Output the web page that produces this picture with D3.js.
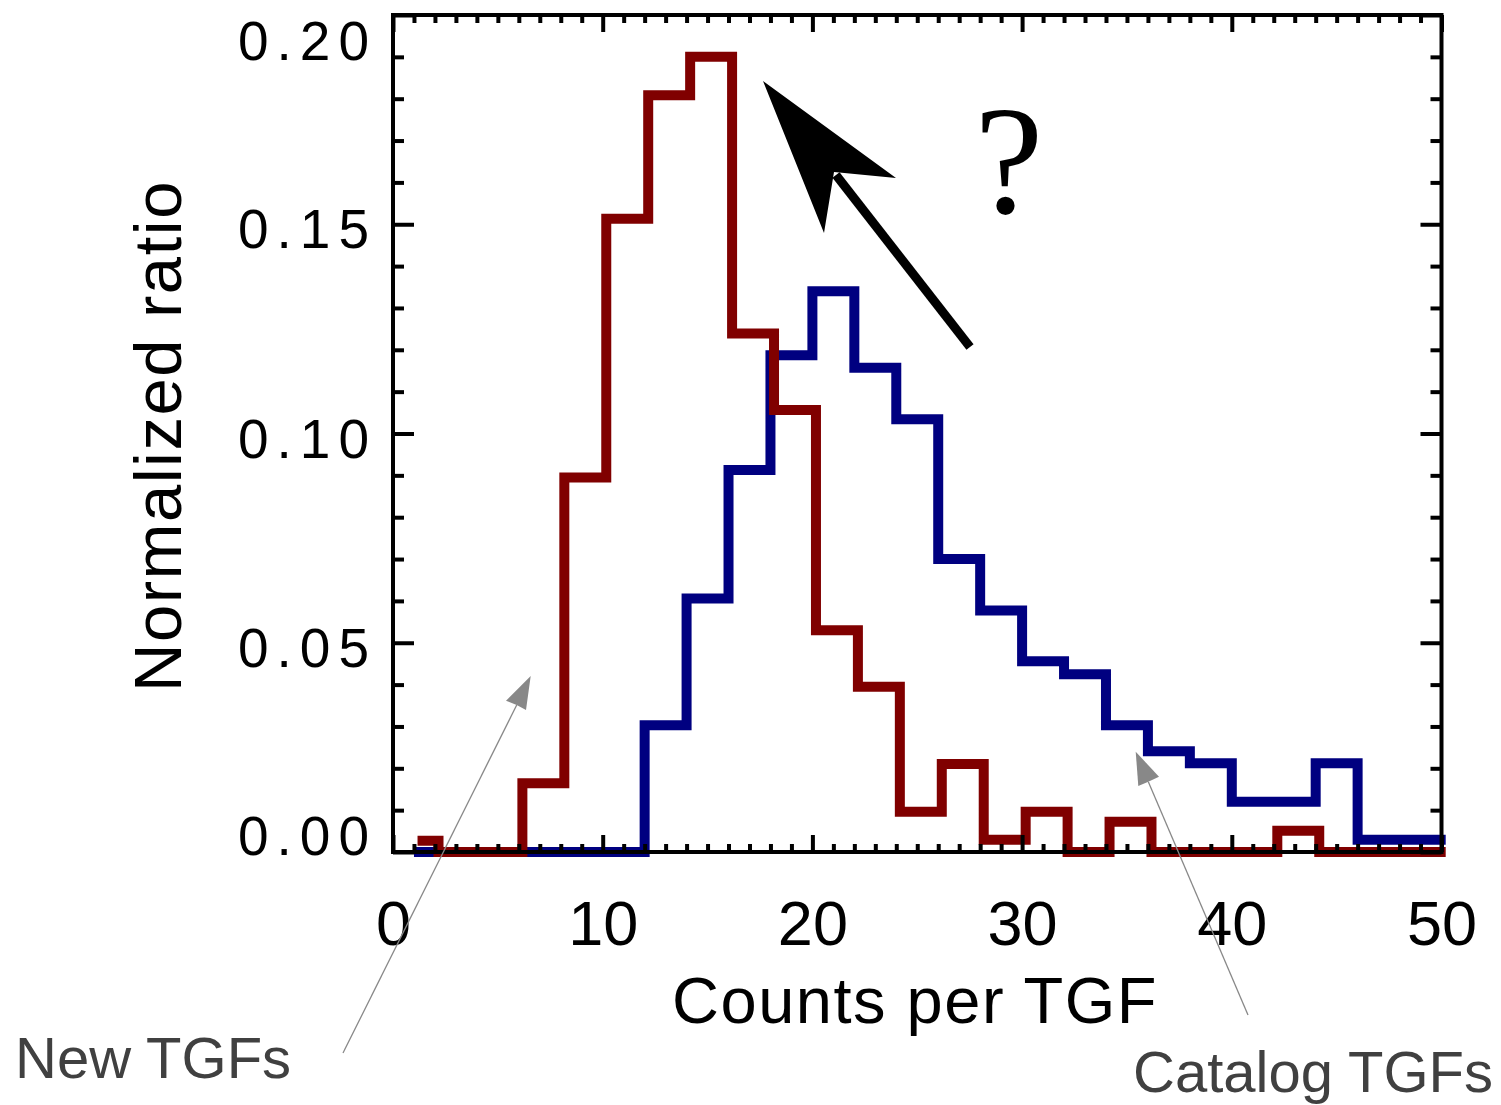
<!DOCTYPE html>
<html>
<head>
<meta charset="utf-8">
<script src="https://cdn.jsdelivr.net/npm/d3@7"></script>
<style>
  body { margin: 0; background: #fff; }
</style>
</head>
<body>
<div class="hist_wrapper"></div>
<script>

// bin centres, IDL psym=10 style (steps fall half way between centres)
const catalogCenters = [1, 3, 5, 7, 9, 11, 13, 15, 17, 19, 21, 23, 25, 27, 29, 31, 33, 35, 37, 39, 41, 43, 45, 47, 49]
const catalogValues = [0, 0, 0, 0, 0, 0, 0.0303, 0.0606, 0.0913, 0.1187, 0.1340, 0.1157, 0.1034, 0.0700,
  0.0577, 0.0456, 0.0425, 0.0303, 0.0241, 0.0212, 0.0120, 0.0120, 0.0212, 0.0029, 0.0029]

const newCenters = [1.17, 3.17, 5.17, 7.17, 9.17, 11.17, 13.17, 15.17, 17.17, 19.17, 21.17, 23.17, 25.17,
  27.17, 29.17, 31.17, 33.17, 35.17, 37.17, 39.17, 41.17, 43.17, 45.17, 47.17, 49.17]
const newValues = [0.0027, 0, 0, 0.0164, 0.0895, 0.1513, 0.1808, 0.1900, 0.1239, 0.1056, 0.0530, 0.0395,
  0.0096, 0.0210, 0.0029, 0.0096, 0, 0.0072, 0, 0, 0, 0.0051, 0, 0, 0]

const histEnd = 50.2

const xTicks = [0, 10, 20, 30, 40, 50]
const yTicks = [0, 0.05, 0.10, 0.15, 0.20]
const xMinor = d3.range(1, 50).filter(d => d % 10 !== 0)
const yMinor = d3.range(1, 20).filter(d => d % 5 !== 0).map(d => d / 100)

let dimensions = {
  width: 1501,
  height: 1105,
  margin: { top: 15, right: 59.5, bottom: 253, left: 393 },
}
dimensions.boundedWidth = dimensions.width - dimensions.margin.left - dimensions.margin.right
dimensions.boundedHeight = dimensions.height - dimensions.margin.top - dimensions.margin.bottom

const svg = d3.select(".hist_wrapper")
  .append("svg")
  .attr("width", dimensions.width)
  .attr("height", dimensions.height)

const x = d3.scaleLinear()
  .domain([0, 50])
  .range([dimensions.margin.left, dimensions.margin.left + dimensions.boundedWidth])

const y = d3.scaleLinear()
  .domain([0, 0.2])
  .range([dimensions.margin.top + dimensions.boundedHeight, dimensions.margin.top])

const x0 = x.range()[0], x1 = x.range()[1]
const yTop = y.range()[1], yBot = y.range()[0]

// build step series
const toPoints = (centers, values) => {
  const pts = centers.map((c, i) => ({ x: c, v: values[i] }))
  pts.push({ x: histEnd, v: values[values.length - 1] })
  return pts
}

const stepLine = d3.line()
  .x(d => x(d.x))
  .y(d => y(d.v))
  .curve(d3.curveStep)

svg.append("path")
  .attr("d", stepLine(toPoints(catalogCenters, catalogValues)))
  .attr("fill", "none")
  .attr("stroke", "#000080")
  .attr("stroke-width", 10)
  .attr("stroke-linejoin", "miter")

svg.append("path")
  .attr("d", stepLine(toPoints(newCenters, newValues)))
  .attr("fill", "none")
  .attr("stroke", "#800000")
  .attr("stroke-width", 10)
  .attr("stroke-linejoin", "miter")

// axes: ticks on all four sides, pointing inward
const styleTicks = g => {
  g.select(".domain").remove()
  g.selectAll(".tick line").attr("stroke", "#000").attr("stroke-width", 4)
}

svg.append("g").attr("transform", `translate(0,${yBot})`)
  .call(d3.axisBottom(x).tickValues(xMinor).tickSize(-8).tickFormat("")).call(styleTicks)
svg.append("g").attr("transform", `translate(0,${yTop})`)
  .call(d3.axisTop(x).tickValues(xMinor).tickSize(-8).tickFormat("")).call(styleTicks)
svg.append("g").attr("transform", `translate(0,${yTop})`)
  .call(d3.axisTop(x).tickValues(xTicks).tickSize(-17).tickFormat("")).call(styleTicks)

const xAxis = svg.append("g").attr("transform", `translate(0,${yBot})`)
  .call(d3.axisBottom(x).tickValues(xTicks).tickSize(-17).tickPadding(48).tickFormat(d3.format("d")))
  .call(styleTicks)
xAxis.selectAll("text")
  .attr("font-family", "'Liberation Sans', Arial, sans-serif")
  .attr("font-size", 63)
  .attr("fill", "#000")

svg.append("g").attr("transform", `translate(${x0},0)`)
  .call(d3.axisLeft(y).tickValues(yMinor).tickSize(-11).tickFormat("")).call(styleTicks)
svg.append("g").attr("transform", `translate(${x1},0)`)
  .call(d3.axisRight(y).tickValues(yMinor).tickSize(-11).tickFormat("")).call(styleTicks)
svg.append("g").attr("transform", `translate(${x1},0)`)
  .call(d3.axisRight(y).tickValues(yTicks).tickSize(-21).tickFormat("")).call(styleTicks)

const yAxis = svg.append("g").attr("transform", `translate(${x0},0)`)
  .call(d3.axisLeft(y).tickValues(yTicks).tickSize(-21).tickPadding(16).tickFormat(d3.format(".2f")))
  .call(styleTicks)
yAxis.selectAll("text")
  .attr("font-family", "'Liberation Sans', Arial, sans-serif")
  .attr("font-size", 55)
  .attr("letter-spacing", 8)
  .attr("fill", "#000")
  .attr("y", d => d === 0.2 ? 27 : d === 0 ? -15 : 6)

// frame
svg.append("rect")
  .attr("x", x0).attr("y", yTop)
  .attr("width", x1 - x0).attr("height", yBot - yTop)
  .attr("fill", "none")
  .attr("stroke", "#000")
  .attr("stroke-width", 4)

// axis titles
svg.append("text")
  .attr("x", 915).attr("y", 1023)
  .attr("text-anchor", "middle")
  .attr("font-family", "'Liberation Sans', Arial, sans-serif")
  .attr("font-size", 65)
  .attr("letter-spacing", 1.5)
  .text("Counts per TGF")

svg.append("text")
  .attr("transform", "translate(181,436) rotate(-90)")
  .attr("text-anchor", "middle")
  .attr("font-family", "'Liberation Sans', Arial, sans-serif")
  .attr("font-size", 67)
  .attr("letter-spacing", 1.5)
  .text("Normalized ratio")

// big black arrow + question mark
svg.append("line")
  .attr("x1", 970).attr("y1", 347).attr("x2", 836).attr("y2", 175)
  .attr("stroke", "#000").attr("stroke-width", 9)
svg.append("path")
  .attr("d", "M763,81 L896,178 L834,172 L824,233 Z")
  .attr("fill", "#000")
svg.append("text")
  .attr("x", 1009).attr("y", 213)
  .attr("text-anchor", "middle")
  .attr("font-family", "'Liberation Serif', 'Times New Roman', serif")
  .attr("font-size", 155)
  .text("?")

// grey annotation arrows
const annot = [
  { label: "New TGFs", tx: 15, ty: 1078, anchor: "start", from: [343, 1053], head: "M530.7,676 L506,700.7 L516.7,705 L526,710 Z", notch: [516.7, 705] },
  { label: "Catalog TGFs", tx: 1133, ty: 1092, anchor: "start", from: [1248, 1015], head: "M1135.7,751.7 L1138.3,786 L1148.3,781.7 L1159,776.7 Z", notch: [1148.3, 781.7] },
]

annot.forEach(a => {
  svg.append("line")
    .attr("x1", a.from[0]).attr("y1", a.from[1])
    .attr("x2", a.notch[0]).attr("y2", a.notch[1])
    .attr("stroke", "#888").attr("stroke-width", 1.3)
  svg.append("path").attr("d", a.head).attr("fill", "#888")
  svg.append("text")
    .attr("x", a.tx).attr("y", a.ty)
    .attr("text-anchor", a.anchor)
    .attr("font-family", "'Liberation Sans', Arial, sans-serif")
    .attr("font-size", 58)
    .attr("fill", "#404040")
    .text(a.label)
})

</script>
</body>
</html>
